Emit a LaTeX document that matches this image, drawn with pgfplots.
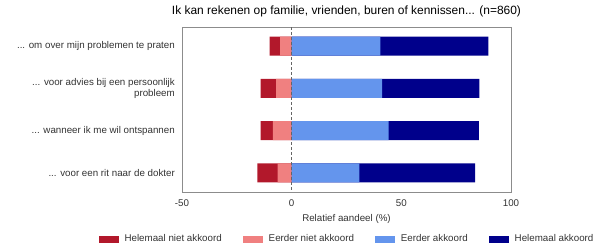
\documentclass[border=0pt]{standalone}
\usepackage{fontspec}
\setmainfont{Liberation Sans}
\usepackage{pgfplots}
\usepackage{pgfplotstable}
\pgfplotsset{compat=1.18}
\definecolor{hnk}{HTML}{B2182B}
\definecolor{enk}{HTML}{F08080}
\definecolor{eak}{HTML}{6495ED}
\definecolor{hak}{HTML}{00008B}
\newcommand\dd{...}
\pgfplotstableread{
cat hn en eb ha
0 4.7 5.3 40.5 49.2
1 7.0 7.1 41.2 44.4
2 5.5 8.6 44.2 41.2
3 9.2 6.4 30.9 52.7
}\data
\begin{document}
\begin{tikzpicture}
\begin{axis}[
  scale only axis, width=329bp, height=165bp,
  xbar, bar width=19bp,
  xmin=-50, xmax=100, ymin=-0.45, ymax=3.45, y dir=reverse,
  xtick={-50,0,50,100},
  ytick={0,1,2,3},
  yticklabels={{\dd{} om over mijn problemen te praten},{\dd{} voor advies bij een persoonlijk\\probleem},{\dd{} wanneer ik me wil ontspannen},{\dd{} voor een rit naar de dokter}},
  major tick length=0pt,
  axis line style={black!45},
  /pgf/number format/assume math mode=true,
  font=\fontsize{9.8}{10.8}\selectfont,
  ticklabel style={font=\fontsize{9.8}{10.8}\selectfont, text=black!80},
  yticklabel style={align=right, inner sep=0pt, xshift=-7bp},
  xticklabel style={anchor=base, inner sep=0pt, yshift=-14.5bp},
  title={Ik kan rekenen op familie, vrienden, buren of kennissen\dd{} (n=860)},
  title style={at={(0.5,1)}, anchor=base, inner sep=0pt, yshift=7bp, font=\fontsize{12}{13}\selectfont},
  xlabel={Relatief aandeel (\%)},
  xlabel style={at={(0.5,0)}, anchor=base, inner sep=0pt, yshift=-29.5bp, text=black!80},
  legend columns=4,
  legend style={at={(0.5,0)}, anchor=center, yshift=-47bp, xshift=0bp, draw=none, fill=none,
    font=\fontsize{9.8}{10.8}\selectfont, text=black!80,
    nodes={inner sep=1bp},
    /tikz/every odd column/.append style={column sep=5bp},
    /tikz/every even column/.append style={column sep=20bp}},
  legend image code/.code={\fill[#1] (0bp,-3.5bp) rectangle (20bp,3.5bp);},
]
% full right extent (Eerder + Helemaal akkoord), drawn first and covered by Eerder akkoord
\addplot[draw=none, fill=hak, bar shift=0pt, forget plot] table[x expr=\thisrow{eb}+\thisrow{ha}, y=cat] {\data};
% full left extent (Helemaal + Eerder niet akkoord), covered by Eerder niet akkoord
\addplot[draw=none, fill=hnk, bar shift=0pt] table[x expr=-\thisrow{hn}-\thisrow{en}, y=cat] {\data};
\addlegendentry{Helemaal niet akkoord}
\addplot[draw=none, fill=enk, bar shift=0pt] table[x expr=-\thisrow{en}, y=cat] {\data};
\addlegendentry{Eerder niet akkoord}
\addplot[draw=none, fill=eak, bar shift=0pt] table[x=eb, y=cat] {\data};
\addlegendentry{Eerder akkoord}
\addlegendimage{draw=none, fill=hak}
\addlegendentry{Helemaal akkoord}
\draw[black!60, dash pattern=on 3bp off 2bp] (axis cs:0,-0.45) -- (axis cs:0,3.45);
\end{axis}
\pgfresetboundingbox
\path[use as bounding box] (current axis.south west) ++(-182bp,-54bp) rectangle ++(597bp,246bp);
\end{tikzpicture}
\end{document}
